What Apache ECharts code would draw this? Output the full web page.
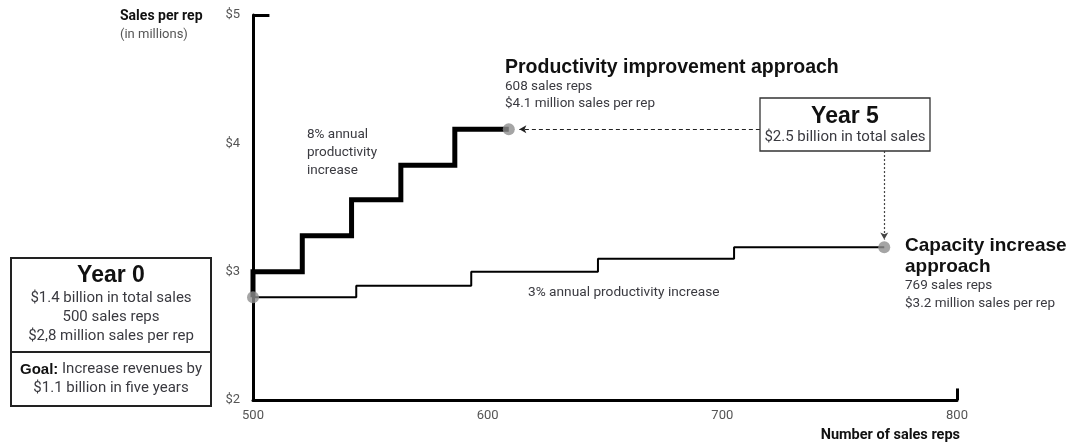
<!DOCTYPE html>
<html><head><meta charset="utf-8">
<script src="https://cdn.jsdelivr.net/npm/echarts@6/dist/echarts.min.js"></script>
<style>html,body{margin:0;padding:0;background:#fff}#c{width:1076px;height:446px}</style>
</head><body><div id="c"></div>
<script>
// Data
const xTicks = [500, 600, 700, 800];
const yTicks = [2, 3, 4, 5];
// Productivity improvement approach: sales reps per year (step points) and sales per rep ($M)
const prodReps = [500, 521, 542, 563, 586, 609];
const prodPerRep = [2.8, 3.0, 3.28, 3.56, 3.83, 4.11];
// Capacity increase approach
const capReps = [500, 544, 593, 647, 705, 769];
const capPerRep = [2.8, 2.8, 2.89, 3.0, 3.1, 3.19];
const startPoint = [500, 2.8];
const prodEnd = [609, 4.11];
const capEnd = [769, 3.19];

const NARROW = "'Liberation Sans Narrow','Roboto','Liberation Sans',sans-serif";
const SANS = "'Liberation Sans',Arial,sans-serif";
const TXT = '#3a3a40';

const chart = echarts.init(document.getElementById('c'), null, {renderer: 'canvas'});

const zip = (a, b) => a.map((v, i) => [v, b[i]]);

const option = {
  animation: false,
  backgroundColor: '#fff',
  grid: {left: 253, right: 119, top: 15, bottom: 46, containLabel: false},
  xAxis: {
    type: 'value', min: 500, max: 800, interval: 100,
    axisLine: {show: true, onZero: false, lineStyle: {color: '#000', width: 3}},
    axisTick: {show: false}, splitLine: {show: false},
    axisLabel: {color: '#555', fontFamily: NARROW, fontSize: 13, margin: 9}
  },
  yAxis: {
    type: 'value', min: 2, max: 5, interval: 1,
    axisLine: {show: true, onZero: false, lineStyle: {color: '#000', width: 3}},
    axisTick: {show: false}, splitLine: {show: false},
    axisLabel: {color: '#555', fontFamily: NARROW, fontSize: 13, margin: 13,
      formatter: v => '$' + v}
  },
  series: [
    {
      type: 'line', step: 'start', data: zip(capReps, capPerRep),
      symbol: 'none', lineStyle: {color: '#000', width: 2}, z: 3,
      markLine: {
        silent: true, symbol: ['none', 'none'], label: {show: false},
        lineStyle: {color: '#000', width: 3, type: 'solid'},
        data: [
          [{coord: [500, 5]}, {coord: [507, 5]}],
          [{coord: [800, 2]}, {coord: [800, 2.09]}]
        ]
      }
    },
    {
      type: 'line', step: 'start', data: zip(prodReps, prodPerRep),
      symbol: 'none', lineStyle: {color: '#000', width: 5, cap: 'butt', join: 'miter'}, z: 4,
      markLine: {
        silent: true, label: {show: false},
        symbol: ['none', 'arrow'], symbolSize: [6, 7],
        data: [
          [{coord: [716, 4.11], lineStyle: {color: '#222', width: 1, type: [4, 3]}},
           {coord: [613.5, 4.11]}],
          [{coord: [769, 3.94], lineStyle: {color: '#444', width: 1.2, type: [2, 2]}},
           {coord: [769, 3.25]}]
        ]
      }
    },
    {
      type: 'scatter', data: [startPoint, prodEnd, capEnd],
      symbol: 'circle', symbolSize: 12, itemStyle: {color: '#8e8e8e'}, z: 6
    }
  ],
  graphic: [
    {type: 'text', left: 120, top: 9, style: {text: 'Sales per rep', font: "bold 14px " + NARROW, fill: '#111'}},
    {type: 'text', left: 120, top: 28, style: {text: '(in millions)', font: "13px " + NARROW, fill: '#555'}},
    {type: 'text', right: 116, top: 428, style: {text: 'Number of sales reps', font: "bold 14.5px " + NARROW, fill: '#111'}},
    // Productivity label
    {type: 'text', left: 505, top: 58, style: {text: 'Productivity improvement approach', font: "bold 19.5px " + SANS, fill: '#111'}},
    {type: 'text', left: 505, top: 80, style: {text: '608 sales reps', font: "13.5px " + NARROW, fill: TXT}},
    {type: 'text', left: 505, top: 97, style: {text: '$4.1 million sales per rep', font: "13.5px " + NARROW, fill: TXT}},
    {type: 'text', left: 307, top: 126, style: {text: '8% annual\nproductivity\nincrease', font: "13.5px " + NARROW, fill: TXT, lineHeight: 18}},
    {type: 'text', left: 528, top: 286, style: {text: '3% annual productivity increase', font: "13.7px " + NARROW, fill: TXT}},
    // Capacity label
    {type: 'text', left: 905, top: 235, style: {text: 'Capacity increase\napproach', font: "bold 19px " + SANS, fill: '#111', lineHeight: 21}},
    {type: 'text', left: 905, top: 279, style: {text: '769 sales reps', font: "13.5px " + NARROW, fill: TXT}},
    {type: 'text', left: 905, top: 297, style: {text: '$3.2 million sales per rep', font: "13.5px " + NARROW, fill: TXT}},
    // Year 5 box
    {type: 'rect', shape: {x: 760, y: 98, width: 170, height: 53}, style: {fill: '#fff', stroke: '#333', lineWidth: 1.3}, z: 10},
    {type: 'text', x: 845, y: 105, z: 11, style: {text: 'Year 5', font: "bold 23px " + SANS, fill: '#111', align: 'center'}},
    {type: 'text', x: 845, y: 130, z: 11, style: {text: '$2.5 billion in total sales', font: "15px " + NARROW, fill: TXT, align: 'center'}},
    // Year 0 box
    {type: 'rect', shape: {x: 11, y: 258, width: 200, height: 148}, style: {fill: '#fff', stroke: '#222', lineWidth: 2}, z: 10},
    {type: 'line', shape: {x1: 11, y1: 352, x2: 211, y2: 352}, style: {stroke: '#222', lineWidth: 2}, z: 11},
    {type: 'text', x: 111, y: 264, z: 11, style: {text: 'Year 0', font: "bold 23px " + SANS, fill: '#111', align: 'center'}},
    {type: 'text', x: 111, y: 289, z: 11, style: {text: '$1.4 billion in total sales\n500 sales reps\n$2,8 million sales per rep', font: "15px " + NARROW, fill: TXT, align: 'center', lineHeight: 19}},
    {type: 'text', x: 111, y: 360, z: 11, style: {
      text: '{b|Goal:} Increase revenues by\n$1.1 billion in five years',
      font: "15px " + NARROW, fill: TXT, align: 'center', lineHeight: 19,
      rich: {b: {font: "bold 15px " + SANS, fill: '#111'}}
    }}
  ]
};
chart.setOption(option);
</script></body></html>
